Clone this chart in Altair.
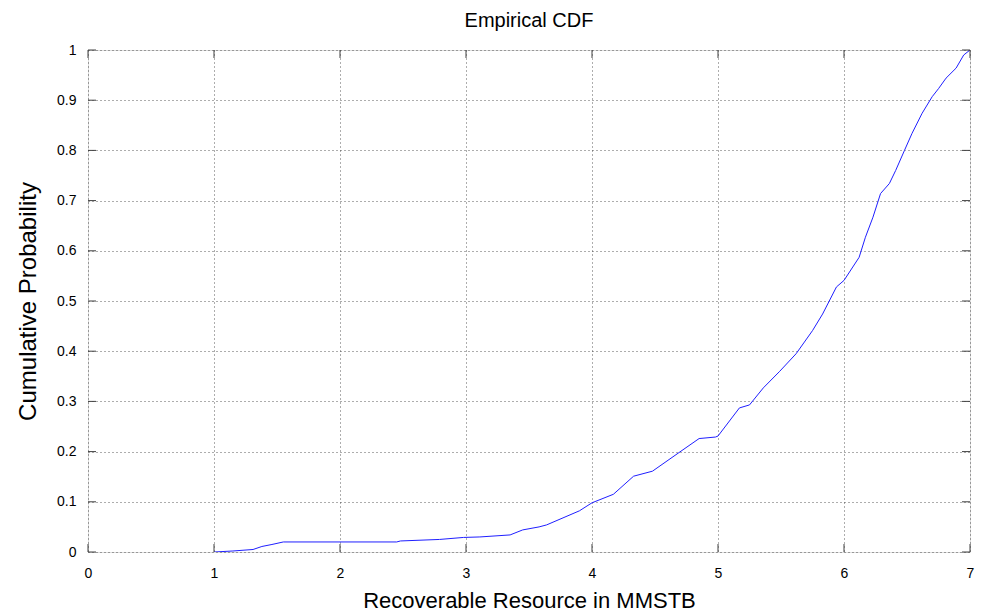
import altair as alt
import pandas as pd

# Empirical CDF
x_vals = [1.00, 1.15, 1.31, 1.38, 1.46, 1.55, 2.45, 2.48, 2.79, 2.98, 3.11, 3.35, 3.45,
          3.58, 3.64, 3.90, 4.00, 4.17, 4.33, 4.48, 4.69, 4.85, 4.98, 5.00, 5.17, 5.25,
          5.36, 5.49, 5.62, 5.75, 5.83, 5.94, 6.00, 6.12, 6.17, 6.23, 6.29, 6.36, 6.41,
          6.48, 6.54, 6.62, 6.70, 6.75, 6.81, 6.89, 6.95, 7.00]
cdf_vals = [0.000, 0.002, 0.005, 0.011, 0.015, 0.020, 0.020, 0.022, 0.025, 0.029, 0.030,
            0.034, 0.044, 0.050, 0.054, 0.082, 0.098, 0.115, 0.151, 0.161, 0.198, 0.226,
            0.229, 0.231, 0.287, 0.293, 0.327, 0.360, 0.395, 0.441, 0.474, 0.528, 0.541,
            0.587, 0.627, 0.667, 0.714, 0.734, 0.760, 0.800, 0.834, 0.874, 0.907, 0.923,
            0.944, 0.964, 0.990, 1.000]

x_ticks = [0, 1, 2, 3, 4, 5, 6, 7]
y_ticks = [0, 0.1, 0.2, 0.3, 0.4, 0.5, 0.6, 0.7, 0.8, 0.9, 1.0]

W, H = 882, 502
FONT = "Liberation Sans"
AX = "#404040"

df = pd.DataFrame({"x": x_vals, "p": cdf_vals})
dfx = pd.DataFrame({"t": x_ticks})
dfy = pd.DataFrame({"t": y_ticks})

xs = alt.Scale(domain=[0, 7], nice=False, zero=False)
ys = alt.Scale(domain=[0, 1], nice=False, zero=False)

xaxis = alt.Axis(values=x_ticks, format="d", grid=True, gridDash=[1, 3], gridColor="#333",
                 gridOpacity=0.8, ticks=False, domain=False, labelFontSize=14,
                 labelColor="black", labelPadding=14, labelFont=FONT, labelFlush=False,
                 title="Recoverable Resource in MMSTB", titleFontSize=22,
                 titleFontWeight="normal", titleFont=FONT, titleColor="black",
                 titlePadding=10)
yaxis = alt.Axis(values=y_ticks, format="~g", grid=True, gridDash=[1, 3], gridColor="#333",
                 gridOpacity=0.8, ticks=False, domain=False, labelFontSize=14,
                 labelColor="black", labelPadding=12, labelFont=FONT, labelFlush=False,
                 title="Cumulative Probability", titleFontSize=24,
                 titleFontWeight="normal", titleFont=FONT, titleColor="black",
                 titlePadding=16)

line = alt.Chart(df).mark_line(color="#1f1fff", strokeWidth=1, clip=True).encode(
    x=alt.X("x:Q", scale=xs, axis=xaxis),
    y=alt.Y("p:Q", scale=ys, axis=yaxis),
)

tick_b = alt.Chart(dfx).mark_rule(color=AX, strokeWidth=1).encode(
    x=alt.X("t:Q", scale=xs), y=alt.value(H), y2=alt.value(H - 8))
tick_t = alt.Chart(dfx).mark_rule(color=AX, strokeWidth=1).encode(
    x=alt.X("t:Q", scale=xs), y=alt.value(0), y2=alt.value(8))
tick_l = alt.Chart(dfy).mark_rule(color=AX, strokeWidth=1).encode(
    y=alt.Y("t:Q", scale=ys), x=alt.value(0), x2=alt.value(8))
tick_r = alt.Chart(dfy).mark_rule(color=AX, strokeWidth=1).encode(
    y=alt.Y("t:Q", scale=ys), x=alt.value(W), x2=alt.value(W - 8))

chart = alt.layer(line, tick_b, tick_t, tick_l, tick_r).properties(
    width=W, height=H,
    title=alt.TitleParams("Empirical CDF", fontSize=20, font=FONT, fontWeight="normal",
                          color="black", anchor="middle", offset=12),
    autosize=alt.AutoSizeParams(type="none"),
    padding={"left": 80, "top": 42, "right": 6, "bottom": 62},
).configure_view(stroke=AX, strokeWidth=1).configure(background="white")

chart.save("out.html", embed_options={"renderer": "svg", "actions": False})
